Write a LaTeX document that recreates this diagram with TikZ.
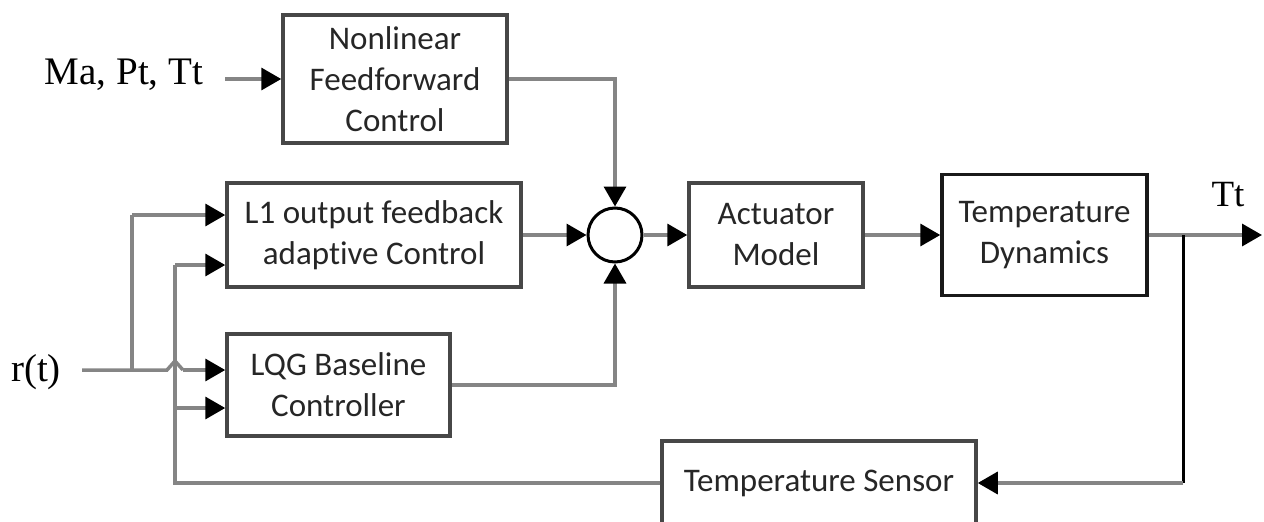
\documentclass[tikz,border=0pt]{standalone}
\usepackage{fontspec}
\setmainfont{Liberation Serif}
\newfontfamily\boxfont[Ligatures=NoCommon]{Carlito}
\usetikzlibrary{arrows.meta,calc}
\begin{document}
\begin{tikzpicture}[x=1pt,y=-1pt,
  blk/.style={draw=black!72, line width=3.5pt, fill=white, inner sep=0pt, align=center,
    font=\boxfont\fontsize{33}{41}\selectfont, text=black!85},
  wire/.style={draw=black!48, line width=3.5pt},
  arr/.style={wire, -{Triangle[length=20pt,width=22pt,color=black]}},
  lbl/.style={font=\fontsize{39}{44}\selectfont, inner sep=0pt}
]
\useasboundingbox (0,0) rectangle (1264,522);
\clip (0,0) rectangle (1264,522);

% blocks
\node[blk, minimum width=224pt, minimum height=128pt] (nf) at (395,79) {Nonlinear\\Feedforward\\Control};
\node[blk, minimum width=294pt, minimum height=104pt] (l1) at (374,235) {L1 output feedback\\adaptive Control};
\node[blk, minimum width=223pt, minimum height=102pt] (lqg) at (338.5,385) {LQG Baseline\\Controller};
\node[blk, minimum width=174pt, minimum height=104pt] (act) at (776,235) {Actuator\\Model};
\node[blk, draw=black!90, minimum width=205pt, minimum height=121pt] (td) at (1044.5,235) {Temperature\\Dynamics};
\node[blk, minimum width=314pt, minimum height=84pt] (ts) at (819,483) {Temperature Sensor};
\node[circle, draw=black, line width=3pt, minimum size=54pt, inner sep=0pt] (s) at (615,235) {};

% labels
\node[lbl] (mpt) at (124,75) {Ma, Pt, Tt};
\node[lbl] (r) at (36,372) {r(t)};
\node[lbl, font=\fontsize{37}{40}\selectfont] (tt) at (1228,195) {Tt};

% coordinates
\coordinate (ma0) at (225,79);
\coordinate (r0) at (82,370);
\coordinate (rb) at (132,370);
\coordinate (rb1) at (132,215);
\coordinate (h1) at (167,370);
\coordinate (h2) at (183,370);
\coordinate (fb1) at (175,265);
\coordinate (fb2) at (175,408);
\coordinate (out) at (1262,235);
\coordinate (br) at (1183,235);

% feedforward
\draw[arr] (ma0) -- (nf.west);
\draw[arr] (nf.east) -| (s.north);
% L1 to sum
\draw[arr] (l1.east) -- (s.west);
\draw[arr] (lqg.east) -| (s.south);
\draw[arr] (s.east) -- (act.west);
\draw[arr] (act.east) -- (td.west);
\draw[arr] (td.east) -- (out);
% feedback
\draw[wire, draw=black, line width=3pt] (br) -- (br |- ts.east);
\draw[arr] (br |- ts.east) -- (ts.east);
\draw[wire] (ts.west) -| (fb1);
\draw[arr] (fb1) -- (l1.west |- fb1);
\draw[arr] (fb2) -- (lqg.west |- fb2);
% reference input
\draw[wire] (r0) -- (h1) -- ($(h1)!0.5!(h2)+(0,-9)$) -- (h2);
\draw[arr] (h2) -- (lqg.west |- h2);
\draw[wire] (rb) -- (rb1);
\draw[arr] (rb1) -- (l1.west |- rb1);
\end{tikzpicture}
\end{document}
